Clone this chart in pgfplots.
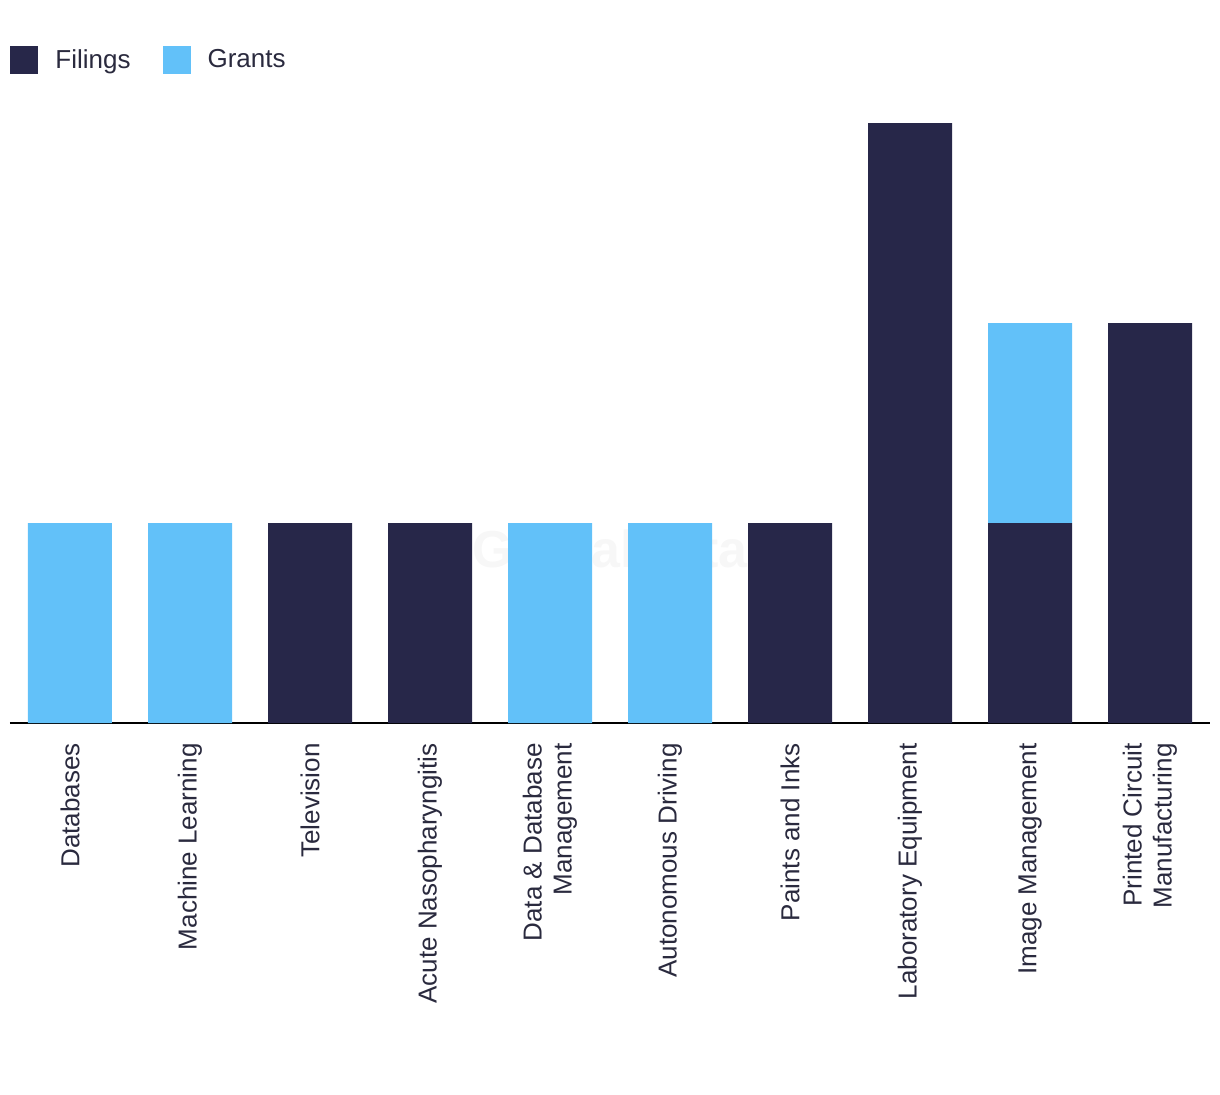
\documentclass[border=0pt]{standalone}
\usepackage{pgfplots}
\pgfplotsset{compat=1.18}
\usepackage{fontspec}
\setmainfont{Liberation Sans}
\definecolor{filings}{HTML}{272749}
\definecolor{grants}{HTML}{62C1F9}
\definecolor{txt}{HTML}{2A2A3E}
\begin{document}
\begin{tikzpicture}[x=1pt,y=1pt]
\begin{axis}[
  scale only axis,
  width=600pt, height=300pt,
  ybar stacked,
  bar width=42pt,
  xmin=-0.5, xmax=9.5,
  ymin=0, ymax=3,
  axis y line=none,
  axis x line*=bottom,
  x axis line style={black, line width=0.8pt, -},
  xtick=data,
  xtick style={draw=none},
  xticklabels={Databases,Machine Learning,Television,Acute Nasopharyngitis,{Data \& Database\\Management},Autonomous Driving,Paints and Inks,Laboratory Equipment,Image Management,{Printed Circuit\\Manufacturing}},
  xticklabel style={rotate=90, anchor=east, align=right, font=\fontsize{13}{15}\selectfont, text=txt, inner sep=0pt, xshift=0pt},
  major tick length=0pt,
  xticklabel shift=10pt,
  clip=false,
  legend columns=2,
  legend style={draw=none, fill=none, at={(rel axis cs:0,1.13)}, anchor=north west, inner sep=0pt, font=\fontsize{13}{15}\selectfont, text=txt,
    /tikz/every even column/.append style={column sep=7.5pt},
    /tikz/every odd column/.append style={column sep=0pt},
    nodes={inner xsep=8.5pt}},
  legend cell align=left,
  legend image code/.code={\fill[#1] (0pt,-7pt) rectangle (14pt,7pt);},
]
\addplot[fill=filings, draw=none] coordinates {(0,0) (1,0) (2,1) (3,1) (4,0) (5,0) (6,1) (7,3) (8,1) (9,2)};
\addplot[fill=grants, draw=none] coordinates {(0,1) (1,1) (2,0) (3,0) (4,1) (5,1) (6,0) (7,0) (8,1) (9,0)};
\legend{Filings, Grants}
\node[text=gray!25, text opacity=0.25, font=\bfseries\fontsize{26}{30}\selectfont] at (axis cs:4.5,0.87) {GlobalData};
\coordinate (bl) at (rel axis cs:-0.008333,-0.61833);
\coordinate (tr) at (rel axis cs:1.008333,1.205);
\end{axis}
\useasboundingbox (bl) rectangle (tr);
\end{tikzpicture}
\end{document}
